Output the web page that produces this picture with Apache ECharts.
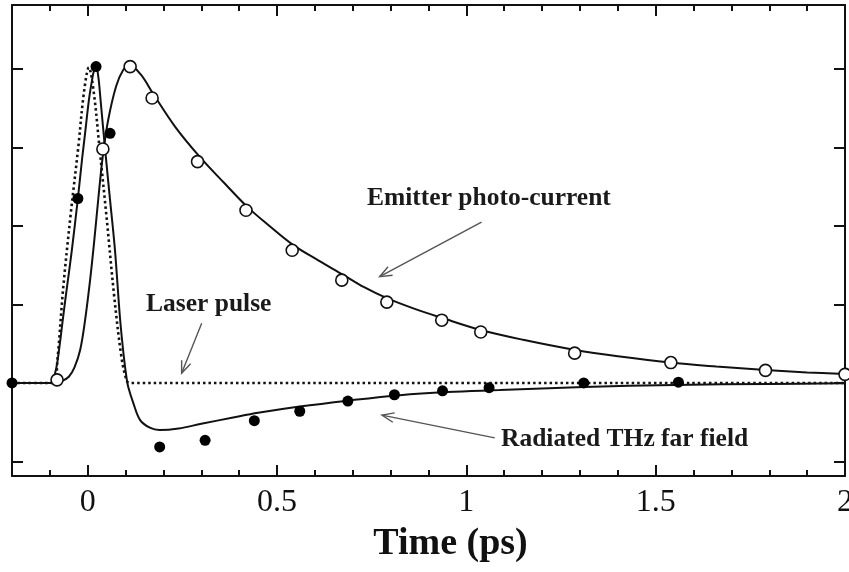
<!DOCTYPE html>
<html>
<head>
<meta charset="utf-8">
<script src="https://cdn.jsdelivr.net/npm/echarts@6/dist/echarts.min.js"></script>
<style>
html,body{margin:0;padding:0;background:#fff;}
#c{width:849px;height:572px;}
</style>
</head>
<body>
<div id="c"></div>
<script>
// ---- Data ----
// Time axis (ps)
var xTickLabels = [0, 0.5, 1, 1.5, 2];
var yTickValues = [-1, 0, 1, 2, 3, 4];

// Laser pulse (dotted curve): [time, amplitude]
var laserT = [-0.2, -0.09, -0.08, -0.065, -0.045, -0.025, -0.01, 0.003, 0.016, 0.031, 0.05, 0.07, 0.09, 0.103, 0.11, 0.5, 1.0, 1.5, 2.0];
var laserV = [0, 0, 0.3, 1.2, 2.15, 3.0, 3.7, 4.02, 3.7, 3.0, 2.1, 1.1, 0.3, 0.03, 0, 0, 0, 0, 0];

// Emitter photo-current (solid curve)
var emitT = [-0.2, -0.09, -0.07, -0.05, -0.035, -0.02, -0.007, 0.006, 0.017, 0.028, 0.04, 0.054, 0.075, 0.094, 0.11, 0.14, 0.172, 0.23, 0.296, 0.36, 0.42, 0.48, 0.542, 0.61, 0.674, 0.73, 0.79, 0.86, 0.935, 1.038, 1.15, 1.288, 1.4, 1.538, 1.66, 1.79, 1.9, 2.0];
var emitV = [0, 0, 0.02, 0.08, 0.2, 0.42, 0.8, 1.3, 1.8, 2.35, 2.9, 3.35, 3.78, 3.99, 4.05, 3.93, 3.69, 3.27, 2.88, 2.55, 2.25, 2.0, 1.76, 1.56, 1.38, 1.22, 1.08, 0.95, 0.83, 0.675, 0.55, 0.42, 0.34, 0.26, 0.21, 0.165, 0.135, 0.115];

// Emitter photo-current measured points (open circles)
var emitPtT = [-0.081, 0.04, 0.112, 0.17, 0.29, 0.418, 0.54, 0.671, 0.79, 0.935, 1.038, 1.286, 1.54, 1.79, 2.0];
var emitPtV = [0.04, 2.98, 4.03, 3.63, 2.82, 2.2, 1.69, 1.31, 1.03, 0.8, 0.65, 0.38, 0.26, 0.16, 0.11];

// Radiated THz far field (solid curve)
var thzT = [-0.2, -0.1, -0.085, -0.075, -0.065, -0.054, -0.042, -0.026, -0.015, -0.007, 0.003, 0.01, 0.016, 0.022, 0.028, 0.034, 0.046, 0.059, 0.072, 0.085, 0.095, 0.103, 0.107, 0.12, 0.138, 0.164, 0.19, 0.24, 0.3, 0.384, 0.45, 0.56, 0.687, 0.824, 0.95, 1.088, 1.31, 1.55, 1.8, 2.0];
var thzV = [0, 0, 0.15, 0.45, 0.84, 1.25, 1.69, 2.35, 2.85, 3.18, 3.6, 3.82, 3.97, 4.03, 3.9, 3.6, 2.97, 2.33, 1.69, 0.84, 0.35, 0.05, -0.05, -0.25, -0.47, -0.57, -0.6, -0.58, -0.52, -0.44, -0.38, -0.3, -0.225, -0.155, -0.115, -0.09, -0.05, -0.025, -0.012, -0.005];

// Radiated THz far field measured points (filled circles)
var thzPtT = [-0.2, -0.026, 0.022, 0.059, 0.19, 0.31, 0.44, 0.56, 0.687, 0.81, 0.937, 1.06, 1.31, 1.56];
var thzPtV = [0, 2.35, 4.03, 3.18, -0.815, -0.73, -0.48, -0.36, -0.23, -0.15, -0.1, -0.06, 0, 0.01];

// Annotations: label text, and arrow [tailT, tailV, headT, headV] in data units
var annEmitterText = 'Emitter photo-current';
var annLaserText = 'Laser pulse';
var annThzText = 'Radiated THz far field';
var arrowEmitter = [1.04, 2.05, 0.771, 1.354];
var arrowLaser = [0.301, 0.76, 0.248, 0.124];
var arrowThz = [1.075, -0.70, 0.777, -0.41];

var xTitle = 'Time (ps)';

// ---- Build ----
function zip(a, b) { var r = []; for (var i = 0; i < a.length; i++) r.push([a[i], b[i]]); return r; }

var serif = "'Liberation Serif', 'DejaVu Serif', serif";
var ink = '#111';
var xMin = -0.2, xMax = 2, yMin = -1.185, yMax = 4.815;

var chart = echarts.init(document.getElementById('c'), null, {renderer: 'canvas'});

function xAx(pos, major, withLabels) {
  var o = {
    type: 'value', min: xMin, max: xMax, position: pos,
    gridIndex: 0,
    splitLine: {show: false},
    axisLine: {show: !major, onZero: false, lineStyle: {color: ink, width: 2}},
    axisTick: {show: true, inside: true, length: major ? 11 : 6, lineStyle: {color: ink, width: 2}},
    axisLabel: {show: false}
  };
  if (major) {
    o.axisTick.customValues = xTickLabels;
    if (withLabels) {
      o.axisLabel = {show: true, customValues: xTickLabels, fontFamily: serif, fontSize: 32, color: ink, margin: 11, lineHeight: 32};
      o.name = xTitle;
      o.nameLocation = 'middle';
      o.nameGap = 49;
      o.nameTextStyle = {fontFamily: serif, fontSize: 38, fontWeight: 'bold', color: ink, padding: [0, 0, 0, 44]};
    }
  } else {
    o.interval = 0.1;
  }
  return o;
}
function yAx(pos) {
  return {
    type: 'value', min: yMin, max: yMax, position: pos,
    splitLine: {show: false},
    axisLine: {show: true, onZero: false, lineStyle: {color: ink, width: 2}},
    axisTick: {show: true, inside: true, length: 11, customValues: yTickValues, lineStyle: {color: ink, width: 2}},
    axisLabel: {show: false}
  };
}

var option = {
  backgroundColor: '#fff',
  animation: false,
  grid: {left: 12, right: 4, top: 5, bottom: 96, containLabel: false, outerBoundsMode: 'none'},
  xAxis: [xAx('bottom', false), xAx('bottom', true, true), xAx('top', false), xAx('top', true, false)],
  yAxis: [yAx('left'), yAx('right')],
  series: [
    {name: 'Laser pulse', type: 'line', data: zip(laserT, laserV), smooth: 0.35, showSymbol: false,
      lineStyle: {color: ink, width: 2.6, type: [2.5, 3]}, z: 2},
    {name: 'Emitter photo-current', type: 'line', data: zip(emitT, emitV), smooth: 0.35, showSymbol: false,
      lineStyle: {color: ink, width: 2}, z: 3},
    {name: 'Radiated THz far field', type: 'line', data: zip(thzT, thzV), smooth: 0.35, showSymbol: false,
      lineStyle: {color: ink, width: 2}, z: 3},
    {name: 'Emitter photo-current (data)', type: 'scatter', data: zip(emitPtT, emitPtV), symbol: 'circle', symbolSize: 12,
      itemStyle: {color: '#fff', borderColor: ink, borderWidth: 1.6, opacity: 1}, z: 5},
    {name: 'Radiated THz far field (data)', type: 'scatter', data: zip(thzPtT, thzPtV), symbol: 'circle', symbolSize: 11,
      itemStyle: {color: '#000', opacity: 1}, z: 6}
  ]
};
chart.setOption(option);

function arrowGraphics(a) {
  var p0 = chart.convertToPixel({xAxisIndex: 0, yAxisIndex: 0}, [a[0], a[1]]);
  var p1 = chart.convertToPixel({xAxisIndex: 0, yAxisIndex: 0}, [a[2], a[3]]);
  var dx = p1[0] - p0[0], dy = p1[1] - p0[1];
  var L = Math.sqrt(dx * dx + dy * dy);
  var ux = dx / L, uy = dy / L;
  var hl = 13, ang = 0.38;
  var c = Math.cos(ang), s = Math.sin(ang);
  var b1 = [p1[0] - hl * (ux * c - uy * s), p1[1] - hl * (uy * c + ux * s)];
  var b2 = [p1[0] - hl * (ux * c + uy * s), p1[1] - hl * (uy * c - ux * s)];
  var st = {stroke: '#555', lineWidth: 1.4};
  return [
    {type: 'line', shape: {x1: p0[0], y1: p0[1], x2: p1[0], y2: p1[1]}, style: st, z: 10},
    {type: 'polyline', shape: {points: [b1, p1, b2]}, style: {stroke: '#555', lineWidth: 1.4, fill: null}, z: 10}
  ];
}
var txtStyle = {fontFamily: serif, fontWeight: 'bold', fontSize: 25.5, fill: '#1a1a1a', textVerticalAlign: 'middle'};
var g = [].concat(
  arrowGraphics(arrowEmitter), arrowGraphics(arrowLaser), arrowGraphics(arrowThz),
  [
    {type: 'text', left: 367, top: 185, style: Object.assign({text: annEmitterText}, txtStyle), z: 10},
    {type: 'text', left: 146, top: 291, style: Object.assign({text: annLaserText}, txtStyle), z: 10},
    {type: 'text', left: 501, top: 426, style: Object.assign({text: annThzText}, txtStyle), z: 10}
  ]
);
chart.setOption({graphic: g});
</script>
</body>
</html>
